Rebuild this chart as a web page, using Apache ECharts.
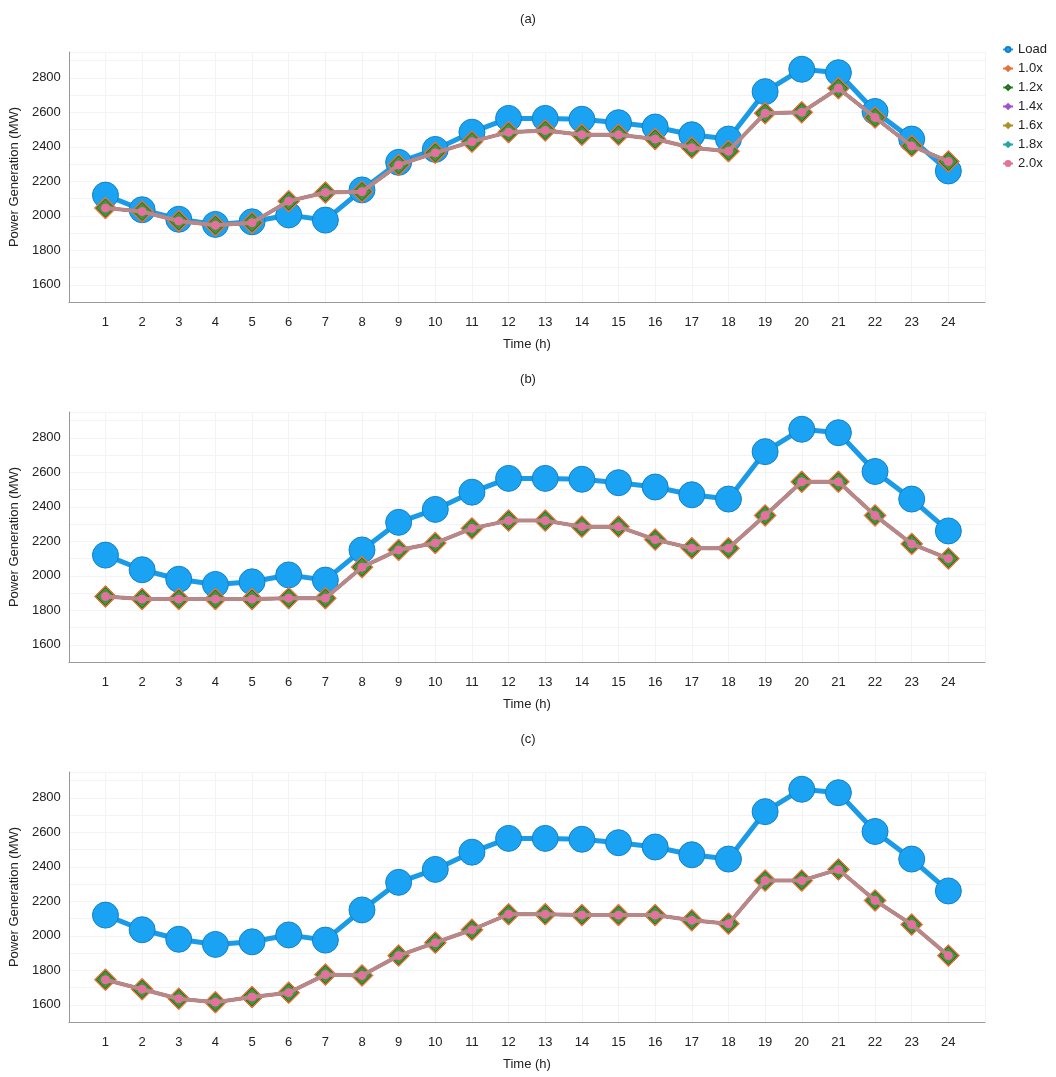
<!DOCTYPE html>
<html>
<head>
<meta charset="utf-8">
<script src="https://cdn.jsdelivr.net/npm/echarts@6/dist/echarts.min.js"></script>
<style>html,body{margin:0;padding:0;background:#fff}#chart{width:1056px;height:1077px}</style>
</head>
<body>
<div id="chart"></div>
<script>
// 数据
const hours = [1,2,3,4,5,6,7,8,9,10,11,12,13,14,15,16,17,18,19,20,21,22,23,24];
const load = [2120,2035,1980,1950,1965,2005,1975,2150,2310,2385,2485,2565,2565,2560,2540,2515,2470,2445,2720,2850,2830,2605,2445,2260];
const genA = [2045,2025,1970,1945,1960,2085,2135,2140,2295,2365,2430,2485,2495,2470,2470,2445,2395,2375,2595,2600,2740,2570,2405,2315];
const genB = [1880,1865,1865,1865,1865,1870,1870,2050,2150,2190,2275,2320,2320,2285,2285,2210,2160,2160,2350,2545,2545,2350,2185,2100];
const genC = [1745,1690,1635,1615,1645,1670,1775,1770,1885,1960,2035,2125,2125,2120,2120,2120,2090,2070,2320,2320,2385,2205,2065,1885];
const panelTitles = ['(a)', '(b)', '(c)'];
const scales = ['1.0x','1.2x','1.4x','1.6x','1.8x','2.0x'];
const scaleColors = ['#e8703a','#3a9a3a','#a050d0','#b09020','#20a8a8','#e870a0'];
const scaleSymbols = ['diamond','diamond','diamond','diamond','diamond','circle'];
const scaleSizes = [22,18,9,8,7,8];

const gens = [genA, genB, genC];
const tops = [52, 412, 772];
const font = 'Liberation Sans, Arial, sans-serif';

const grids = [], xAxes = [], yAxes = [], titles = [], series = [];
tops.forEach((top, i) => {
  grids.push({ left: 65, right: 71, top: top, height: 250 });
  titles.push({ text: panelTitles[i], left: 'center', top: top - 44,
    textStyle: { fontSize: 13, fontWeight: 'normal', color: '#222', fontFamily: font } });
  xAxes.push({
    type: 'value', gridIndex: i, min: 0, max: 25, interval: 1,
    name: 'Time (h)', nameLocation: 'middle', nameGap: 36,
    nameTextStyle: { fontSize: 13, color: '#222', fontFamily: font },
    axisLine: { lineStyle: { color: '#999' } },
    axisTick: { show: false },
    axisLabel: { fontSize: 13, color: '#222', fontFamily: font, margin: 14,
      formatter: v => (v >= 1 && v <= 24) ? v : '' },
    splitLine: { show: true, lineStyle: { color: '#f3f3f3' } }
  });
  yAxes.push({
    type: 'value', gridIndex: i, min: 1500, max: 2950, interval: 100,
    name: 'Power Generation (MW)', nameLocation: 'middle', nameGap: 36,
    nameTextStyle: { fontSize: 13, color: '#222', fontFamily: font },
    axisLine: { show: true, lineStyle: { color: '#999' } },
    axisTick: { show: false },
    axisLabel: { fontSize: 13, color: '#222', fontFamily: font,
      formatter: v => (v % 200 === 0) ? v : '' },
    splitLine: { show: true, lineStyle: { color: '#f3f3f3' } }
  });
  series.push({
    name: 'Load', type: 'line', xAxisIndex: i, yAxisIndex: i,
    data: hours.map((h, k) => [h, load[k]]),
    symbol: 'circle', symbolSize: 26,
    lineStyle: { color: '#1a9be8', width: 5 },
    itemStyle: { color: '#1aa3f2', borderColor: '#1480c8', borderWidth: 1 },
    z: 2
  });
  scales.forEach((s, j) => {
    series.push({
      name: s, type: 'line', xAxisIndex: i, yAxisIndex: i,
      data: hours.map((h, k) => [h, gens[i][k]]),
      symbol: scaleSymbols[j], symbolSize: scaleSizes[j],
      lineStyle: { color: j === 5 ? '#b98787' : scaleColors[j], width: j === 5 ? 4 : 3 },
      itemStyle: { color: scaleColors[j], borderColor: j === 1 ? '#1f6e1f' : scaleColors[j], borderWidth: 1 },
      z: 3 + j
    });
  });
});

const chart = echarts.init(document.getElementById('chart'));
chart.setOption({
  animation: false,
  title: titles,
  legend: {
    data: ['Load'].concat(scales), orient: 'vertical', right: 4, top: 38,
    itemWidth: 10, itemHeight: 6, itemGap: 6,
    textStyle: { fontSize: 13, color: '#222', fontFamily: font }
  },
  grid: grids,
  xAxis: xAxes,
  yAxis: yAxes,
  series: series
});
</script>
</body>
</html>
